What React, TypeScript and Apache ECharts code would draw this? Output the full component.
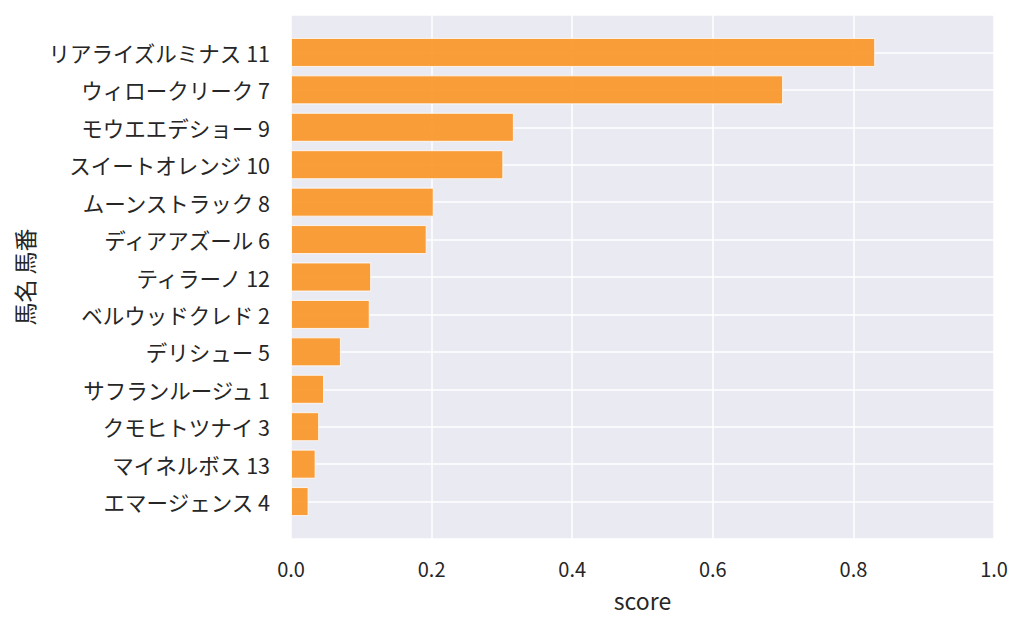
import React, { useEffect, useRef } from "react";
import * as echarts from "echarts";

const horseNames = [
  "リアライズルミナス 11",
  "ウィロークリーク 7",
  "モウエエデショー 9",
  "スイートオレンジ 10",
  "ムーンストラック 8",
  "ディアアズール 6",
  "ティラーノ 12",
  "ベルウッドクレド 2",
  "デリシュー 5",
  "サフランルージュ 1",
  "クモヒトツナイ 3",
  "マイネルボス 13",
  "エマージェンス 4",
];
const scores = [0.831, 0.7, 0.317, 0.302, 0.203, 0.193, 0.114, 0.112, 0.071, 0.047, 0.04, 0.035, 0.025];
const xTicks = [0, 0.2, 0.4, 0.6, 0.8, 1.0];
const xName = "score";
const yName = "馬名 馬番";

const FONT = "'Noto Sans CJK JP', 'Noto Sans', sans-serif";

export default function App() {
  const ref = useRef<HTMLDivElement>(null);
  useEffect(() => {
    if (!ref.current) return;
    const chart = echarts.init(ref.current, undefined, { renderer: "svg" });
    const cats = ["", ...horseNames, ""];
    const data = [null, ...scores, null];
    chart.setOption({
      animation: false,
      backgroundColor: "#ffffff",
      textStyle: { fontFamily: FONT },
      grid: {
        left: 291,
        top: 15,
        width: 703,
        height: 524,
        show: true,
        backgroundColor: "#eaeaf2",
        borderWidth: 0,
      },
      xAxis: {
        type: "value",
        min: xTicks[0],
        max: xTicks[xTicks.length - 1],
        interval: 0.2,
        axisLine: { show: false },
        axisTick: { show: false },
        splitLine: { show: true, lineStyle: { color: "#ffffff", width: 1.5 } },
        axisLabel: {
          formatter: (v: number) => v.toFixed(1),
          fontSize: 20,
          color: "#262626",
          margin: 19,
          fontFamily: FONT,
        },
        name: xName,
        nameLocation: "middle",
        nameGap: 49,
        nameTextStyle: { fontSize: 23, color: "#262626", fontFamily: FONT },
      },
      yAxis: {
        type: "category",
        data: cats,
        inverse: true,
        boundaryGap: false,
        axisLine: { show: false },
        axisTick: { show: false },
        splitLine: { show: true, lineStyle: { color: "#ffffff", width: 1.5 } },
        axisLabel: {
          fontSize: 21.5,
          color: "#262626",
          margin: 21,
          fontFamily: FONT,
          interval: 0,
        },
        name: yName,
        nameLocation: "middle",
        nameGap: 256,
        nameRotate: 90,
        nameTextStyle: { fontSize: 23, color: "#262626", fontFamily: FONT },
      },
      series: [
        {
          type: "bar",
          data,
          barWidth: 29,
          itemStyle: {
            color: "rgba(250,150,40,0.92)",
            borderColor: "rgba(255,255,255,0.8)",
            borderWidth: 1,
          },
        },
      ],
    });
    return () => chart.dispose();
  }, []);
  return <div ref={ref} style={{ width: 1024, height: 627, position: "absolute", left: 0, top: 0 }} />;
}
